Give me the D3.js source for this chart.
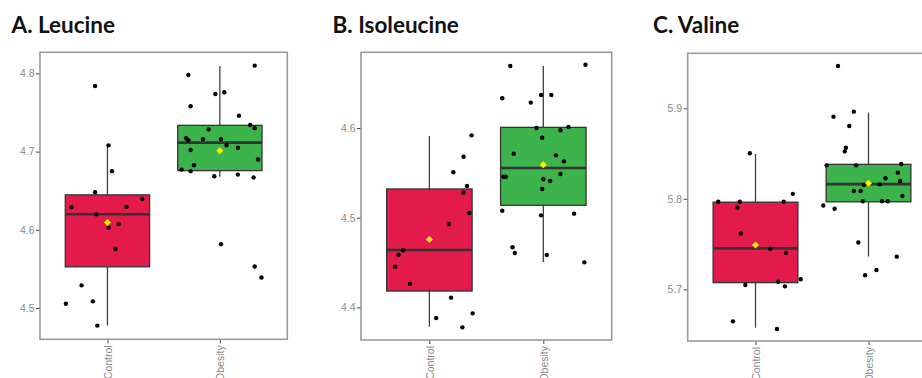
<!DOCTYPE html>
<html><head><meta charset="utf-8">
<script src="https://cdn.jsdelivr.net/npm/d3@7"></script>
<style>body{margin:0;background:#fff}svg{display:block}</style>
</head><body>
<script>
// ---------- data ----------
const groups = ["Control", "Obesity"];
const titles = ["A. Leucine", "B. Isoleucine", "C. Valine"];
const yTicksA = [4.5, 4.6, 4.7, 4.8];
const yTicksB = [4.4, 4.5, 4.6];
const yTicksC = [5.7, 5.8, 5.9];
// box stats per group: [whiskerLow, Q1, median, Q3, whiskerHigh, mean]
const boxA = [[4.4775, 4.5527, 4.620, 4.6447, 4.709, 4.6094], [4.668, 4.6757, 4.7115, 4.7336, 4.8094, 4.701]];
const boxB = [[4.3784, 4.4182, 4.4639, 4.532, 4.5911, 4.4758], [4.4506, 4.5138, 4.5554, 4.6007, 4.6691, 4.5591]];
const boxC = [[5.6576, 5.7074, 5.7453, 5.7963, 5.8495, 5.749], [5.7361, 5.7967, 5.8162, 5.8381, 5.8952, 5.8173]];
// individual values and jitter (fraction of one category step)
const ptsA_control = [4.784, 4.708, 4.675, 4.648, 4.629, 4.620, 4.6294, 4.6396, 4.6026, 4.6073, 4.5754, 4.529, 4.5055, 4.5085, 4.4775];
const jitA_control = [-0.11, 0.01, 0.04, -0.11, -0.32, -0.10, 0.17, 0.31, 0.01, 0.10, 0.07, -0.23, -0.37, -0.13, -0.09];
const ptsA_obesity = [4.798, 4.810, 4.7736, 4.776, 4.758, 4.746, 4.734, 4.730, 4.7285, 4.717, 4.7145, 4.716, 4.716, 4.708, 4.705, 4.702, 4.690, 4.6826, 4.677, 4.675, 4.6685, 4.6706, 4.667, 4.5817, 4.553, 4.539];
const jitA_obesity = [-0.28, 0.31, -0.04, 0.04, -0.26, 0.17, 0.27, 0.31, -0.10, -0.30, -0.28, -0.15, 0.01, 0.06, 0.16, -0.26, 0.34, -0.23, -0.34, -0.26, -0.05, 0.16, 0.30, 0.01, 0.31, 0.37];
const ptsB_control = [4.5918, 4.568, 4.5506, 4.5353, 4.528, 4.5052, 4.493, 4.4636, 4.4587, 4.4454, 4.4264, 4.4108, 4.3933, 4.3881, 4.3777];
const jitB_control = [0.37, 0.30, 0.21, 0.33, 0.30, 0.35, 0.17, -0.23, -0.27, -0.30, -0.17, 0.19, 0.38, 0.06, 0.29];
const ptsB_obesity = [4.6691, 4.6706, 4.6331, 4.6368, 4.6368, 4.6283, 4.6, 4.6011, 4.5974, 4.5892, 4.5714, 4.5695, 4.5628, 4.5457, 4.5457, 4.5428, 4.5409, 4.5487, 4.532, 4.5078, 4.5045, 4.5026, 4.467, 4.4606, 4.4584, 4.4502];
const jitB_obesity = [-0.29, 0.37, -0.36, -0.02, 0.07, -0.11, -0.06, 0.22, 0.15, -0.01, -0.26, 0.11, 0.18, -0.35, -0.33, 0.00, 0.06, 0.15, -0.01, -0.36, 0.27, -0.02, -0.27, -0.25, 0.03, 0.36];
const ptsC_control = [5.8503, 5.8055, 5.7967, 5.7967, 5.7967, 5.7904, 5.7617, 5.7448, 5.7403, 5.7112, 5.7085, 5.7048, 5.7033, 5.6646, 5.6561];
const jitC_control = [-0.05, 0.33, -0.33, -0.14, 0.25, -0.16, -0.13, 0.13, 0.27, 0.40, 0.20, -0.09, 0.26, -0.20, 0.19];
const ptsC_obesity = [5.9468, 5.8963, 5.8908, 5.8805, 5.8565, 5.8524, 5.837, 5.837, 5.8385, 5.8289, 5.8227, 5.8197, 5.816, 5.8153, 5.8087, 5.8087, 5.7973, 5.7973, 5.7973, 5.8031, 5.7926, 5.789, 5.7517, 5.7361, 5.7213, 5.7155];
const jitC_obesity = [-0.27, -0.13, -0.31, -0.17, -0.20, -0.21, -0.37, -0.11, 0.29, 0.26, 0.15, 0.28, 0.10, -0.04, -0.13, -0.07, -0.05, 0.12, 0.17, 0.30, -0.40, -0.30, -0.09, 0.25, 0.07, -0.03];
const yDomainA = [4.460, 4.827];
const yDomainB = [4.3636, 4.6844];
const yDomainC = [5.6429, 5.9608];

// ---------- layout / style ----------
const W = 922, H = 378;
const fills = ["#E31B4B", "#3DB34B"];
const panels = [
  {title: titles[0], tx: 11.5, x0: 40, x1: 287.3, y0: 52.3, y1: 339.3, dom: yDomainA, ticks: yTicksA, box: boxA, pts: [ptsA_control, ptsA_obesity], jit: [jitA_control, jitA_obesity]},
  {title: titles[1], tx: 332.5, x0: 361, x1: 611.7, y0: 52.3, y1: 340, dom: yDomainB, ticks: yTicksB, box: boxB, pts: [ptsB_control, ptsB_obesity], jit: [jitB_control, jitB_obesity]},
  {title: titles[2], tx: 653, x0: 687.7, x1: 936.3, y0: 53.3, y1: 341, dom: yDomainC, ticks: yTicksC, box: boxC, pts: [ptsC_control, ptsC_obesity], jit: [jitC_control, jitC_obesity]}
];

const svg = d3.select("body").append("svg").attr("width", W).attr("height", H);

panels.forEach(p => {
  const g = svg.append("g");
  // title
  g.append("text").attr("x", p.tx).attr("y", 32.5)
    .attr("font-family", "Lato, 'Open Sans', sans-serif").attr("font-weight", 700)
    .attr("font-size", 22.5).attr("fill", "#111").text(p.title);

  const y = d3.scaleLinear().domain(p.dom).range([p.y1, p.y0]);
  const x = d3.scaleLinear().domain([0.4, 2.6]).range([p.x0, p.x1]);
  const step = x(2) - x(1);
  const bw = 0.75 * step;

  // y axis
  const ya = g.append("g").attr("transform", `translate(${p.x0},0)`)
    .call(d3.axisLeft(y).tickValues(p.ticks).tickFormat(d3.format(".1f")).tickSize(4).tickPadding(1.5));
  ya.select(".domain").remove();
  ya.selectAll("line").attr("stroke", "#444").attr("stroke-width", 1);
  ya.selectAll("text").attr("fill", "#8a8a8a").attr("font-size", 10.5)
    .attr("font-family", "'Liberation Sans', Arial, sans-serif");

  // x axis
  const xa = g.append("g").attr("transform", `translate(0,${p.y1})`)
    .call(d3.axisBottom(x).tickValues([1, 2]).tickFormat((d, i) => groups[i]).tickSize(4));
  xa.select(".domain").remove();
  xa.selectAll("line").attr("stroke", "#444").attr("stroke-width", 1);
  xa.selectAll("text").attr("fill", "#8a8a8a").attr("font-size", 10.5)
    .attr("font-family", "'Liberation Sans', Arial, sans-serif")
    .attr("transform", "rotate(-90)").attr("text-anchor", "end")
    .attr("x", -6).attr("y", 0).attr("dy", "0.35em");

  groups.forEach((gname, i) => {
    const b = p.box[i];
    const cx = x(i + 1);
    // whiskers
    g.append("line").attr("x1", cx).attr("x2", cx).attr("y1", y(b[0])).attr("y2", y(b[1]))
      .attr("stroke", "#404040").attr("stroke-width", 1.3);
    g.append("line").attr("x1", cx).attr("x2", cx).attr("y1", y(b[3])).attr("y2", y(b[4]))
      .attr("stroke", "#404040").attr("stroke-width", 1.3);
    // box
    g.append("rect").attr("x", cx - bw / 2).attr("width", bw)
      .attr("y", y(b[3])).attr("height", y(b[1]) - y(b[3]))
      .attr("fill", fills[i]).attr("stroke", "#333").attr("stroke-width", 1.3);
    // median
    g.append("line").attr("x1", cx - bw / 2).attr("x2", cx + bw / 2)
      .attr("y1", y(b[2])).attr("y2", y(b[2])).attr("stroke", "#333").attr("stroke-width", 2.6);
  });

  groups.forEach((gname, i) => {
    const cx = i + 1;
    g.selectAll(null).data(p.pts[i]).enter().append("circle")
      .attr("cx", (d, k) => x(cx + p.jit[i][k])).attr("cy", d => y(d))
      .attr("r", 2.2).attr("fill", "#000");
    // mean diamond
    g.append("path").attr("d", d3.symbol(d3.symbolSquare, 24)())
      .attr("transform", `translate(${x(cx)},${y(p.box[i][5])}) rotate(45)`)
      .attr("fill", "#FFF200");
  });

  // panel border
  g.append("rect").attr("x", p.x0).attr("y", p.y0).attr("width", p.x1 - p.x0).attr("height", p.y1 - p.y0)
    .attr("fill", "none").attr("stroke", "#9a9a9a").attr("stroke-width", 1.6);
});
</script>
</body></html>
